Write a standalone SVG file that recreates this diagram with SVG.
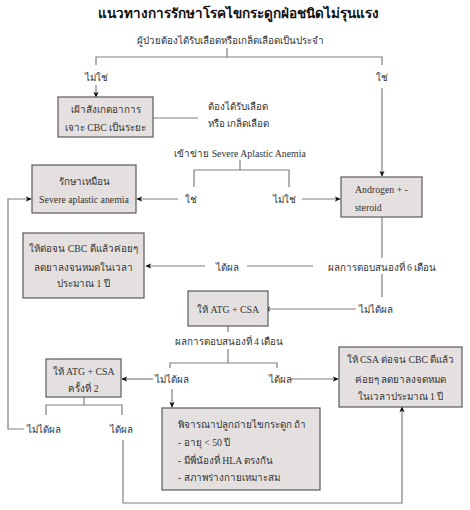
<svg xmlns="http://www.w3.org/2000/svg" width="470" height="510" viewBox="0 0 470 510">
<defs>
<marker id="ah" viewBox="0 0 8 8" refX="7" refY="4" markerWidth="6" markerHeight="6" orient="auto" markerUnits="userSpaceOnUse">
<path d="M0,0.5 L8,4 L0,7.5 L2,4 Z" fill="#111"/>
</marker>
<style>
.bx{fill:#e4e0e0;stroke:#5a5a5a;stroke-width:1.2}
.t{font-family:"Liberation Serif","Noto Sans",serif;font-size:9.8px;fill:#333}
.c{text-anchor:middle}
.ln{fill:none;stroke:#808080;stroke-width:1.2}
.ar{marker-end:url(#ah)}
.ti{font-family:"Liberation Serif","Noto Sans",serif;font-size:13.5px;font-weight:bold;fill:#111;text-anchor:middle}
</style>
</defs>
<rect width="470" height="510" fill="#fff"/>
<text class="ti" x="238" y="18">แนวทางการรักษาโรคไขกระดูกฝ่อชนิดไม่รุนแรง</text>

<g id="connectors">
<path class="ln" d="M227,48 V57 M96,65 V57 H382 V65"/>
<path class="ln ar" d="M96,85 V97"/>
<path class="ln ar" d="M382,88 V176"/>
<path class="ln" d="M153,118 H198"/>
<path class="ln" d="M240,160 V170 M194,187 V170 H289 V187"/>
<path class="ln ar" d="M178,199 H137"/>
<path class="ln ar" d="M302,199 H340"/>
<path class="ln" d="M382,217 V258"/>
<path class="ln" d="M313,266 H247"/>
<path class="ln ar" d="M205,266 H146"/>
<path class="ln" d="M382,274 V297"/>
<path class="ln ar" d="M356,309 H265"/>
<path class="ln" d="M228,326 V332 M228,349 V363 M170,368 V363 H277 V368"/>
<path class="ln ar" d="M153,379 H122"/>
<path class="ln ar" d="M290,379 H338"/>
<path class="ln ar" d="M172,389 V407"/>
<path class="ln" d="M84,397 V405 M46,415 V405 H122 V415"/>
<path class="ln ar" d="M24,429 H8 V199 H31"/>
<path class="ln ar" d="M123,440 V503 H402 V407"/>
</g>

<g id="n-top"><text class="t c" x="230" y="44">ผู้ป่วยต้องได้รับเลือดหรือเกล็ดเลือดเป็นประจำ</text></g>
<g id="l-no1"><text class="t c" x="96" y="81">ไม่ใช่</text></g>
<g id="l-yes1"><text class="t c" x="382" y="81">ใช่</text></g>

<g id="n-observe">
<rect class="bx" x="58" y="97" width="95" height="40"/>
<text class="t c" x="105.5" y="113">เฝ้าสังเกตอาการ</text>
<text class="t c" x="105.5" y="131">เจาะ CBC เป็นระยะ</text>
</g>
<g id="n-need"><text class="t" x="208" y="110">ต้องได้รับเลือด</text><text class="t" x="208" y="127">หรือ เกล็ดเลือด</text></g>

<g id="n-saa"><text class="t c" x="240" y="157">เข้าข่าย Severe Aplastic Anemia</text></g>
<g id="l-yes2"><text class="t c" x="191" y="203">ใช่</text></g>
<g id="l-no2"><text class="t c" x="284" y="203">ไม่ใช่</text></g>

<g id="n-severe">
<rect class="bx" x="32" y="165" width="104" height="48"/>
<text class="t c" x="84" y="185">รักษาเหมือน</text>
<text class="t c" x="84" y="203">Severe aplastic anemia</text>
</g>

<g id="n-androgen">
<rect class="bx" x="341" y="177" width="81" height="40"/>
<text class="t" x="355" y="193">Androgen + -</text>
<text class="t" x="355" y="211">steroid</text>
</g>

<g id="n-cont1">
<rect class="bx" x="23" y="233" width="121" height="65"/>
<text class="t c" x="83.5" y="252">ให้ต่อจน CBC  ดีแล้วค่อยๆ</text>
<text class="t c" x="83.5" y="271">ลดยาลงจนหมดในเวลา</text>
<text class="t c" x="83.5" y="287">ประมาณ 1 ปี</text>
</g>

<g id="n-resp6"><text class="t c" x="382" y="271">ผลการตอบสนองที่ 6 เดือน</text></g>
<g id="l-ok1"><text class="t c" x="227" y="271">ได้ผล</text></g>
<g id="l-fail1"><text class="t c" x="376" y="313">ไม่ได้ผล</text></g>

<g id="n-atg">
<rect class="bx" x="188" y="291" width="80" height="35"/>
<text class="t c" x="228" y="313">ให้ ATG + CSA</text>
</g>

<g id="n-resp4"><text class="t c" x="229" y="345">ผลการตอบสนองที่ 4 เดือน</text></g>
<g id="l-fail2"><text class="t c" x="172" y="383">ไม่ได้ผล</text></g>
<g id="l-ok2"><text class="t c" x="280" y="383">ได้ผล</text></g>

<g id="n-atg2">
<rect class="bx" x="46" y="359" width="75" height="38"/>
<text class="t c" x="83.5" y="375">ให้ ATG + CSA</text>
<text class="t c" x="83.5" y="392">ครั้งที่ 2</text>
</g>

<g id="n-csa">
<rect class="bx" x="339" y="347" width="123" height="60"/>
<text class="t c" x="400.5" y="363">ให้ CSA ต่อจน CBC ดีแล้ว</text>
<text class="t c" x="400.5" y="383">ค่อยๆ ลดยาลงจดหมด</text>
<text class="t c" x="400.5" y="400">ในเวลาประมาณ 1 ปี</text>
</g>

<g id="l-fail3"><text class="t" x="27" y="433">ไม่ได้ผล</text></g>
<g id="l-ok3"><text class="t c" x="121" y="433">ได้ผล</text></g>

<g id="n-bmt">
<rect class="bx" x="162" y="408" width="158" height="82"/>
<text class="t" x="178" y="428">พิจารณาปลูกถ่ายไขกระดูก ถ้า</text>
<text class="t" x="178" y="446">- อายุ &lt; 50 ปี</text>
<text class="t" x="178" y="464">- มีพี่น้องที่ HLA ตรงกัน</text>
<text class="t" x="178" y="481">- สภาพร่างกายเหมาะสม</text>
</g>
</svg>
